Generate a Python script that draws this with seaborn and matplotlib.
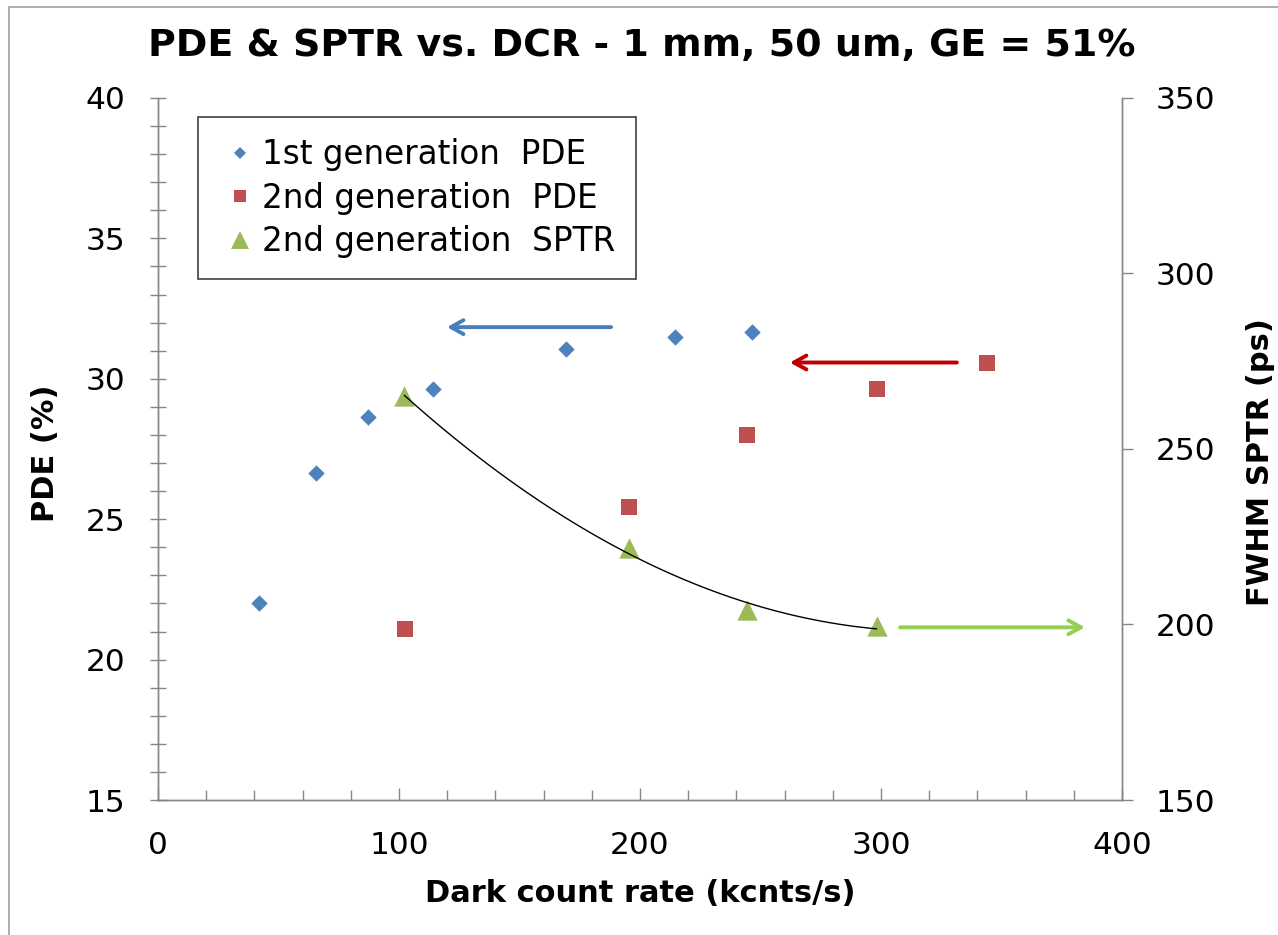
import matplotlib
matplotlib.use("Agg")
import matplotlib.pyplot as plt
from matplotlib.lines import Line2D
from matplotlib.patches import Rectangle
from matplotlib.ticker import MultipleLocator
import seaborn as sns

# ---- data ----
gen1_dcr = [42.0, 65.4, 87.3, 114.0, 169.3, 214.6, 246.6]
gen1_pde = [22.0, 26.65, 28.65, 29.65, 31.05, 31.5, 31.65]

gen2_dcr = [102.5, 195.6, 244.3, 298.2, 344.0]
gen2_pde = [21.1, 25.45, 28.0, 29.65, 30.58]

sptr_dcr = [102.2, 195.6, 244.3, 298.2]
sptr_ps = [265.0, 221.8, 204.1, 199.5]

legend_labels = ["1st generation  PDE", "2nd generation  PDE", "2nd generation  SPTR"]
title_text = "PDE & SPTR vs. DCR - 1 mm, 50 um, GE = 51%"
xlabel_text = "Dark count rate (kcnts/s)"
ylabel_left = "PDE (%)"
ylabel_right = "FWHM SPTR (ps)"

# arrows (tail -> tip) pointing to the axis each series uses
blue_arrow = [(188.0, 31.84), (119.9, 31.84)]
red_arrow = [(331.5, 30.58), (262.2, 30.58)]
green_arrow = [(307.9, 199.2), (384.6, 199.2)]

C_BLUE = "#4F81BD"
C_RED = "#C0504D"
C_GREEN = "#9BBB59"
AX_GRAY = "#868686"

sns.set_style("white")
plt.rcParams["font.family"] = ["DejaVu Sans"]
plt.rcParams["text.color"] = "black"
plt.rcParams["axes.labelcolor"] = "black"
plt.rcParams["xtick.labelcolor"] = "black"
plt.rcParams["ytick.labelcolor"] = "black"

W, H = 1278, 935
fig = plt.figure(figsize=(W / 100, H / 100), dpi=100)
L, R, T, B = 158, 1122, 98, 800
ax = fig.add_axes([L / W, 1 - B / H, (R - L) / W, (B - T) / H])
ax2 = ax.twinx()

# scatter series
sns.scatterplot(x=gen1_dcr, y=gen1_pde, marker="D", color=C_BLUE, s=70,
                linewidth=0, ax=ax, legend=False, zorder=3)
sns.scatterplot(x=gen2_dcr, y=gen2_pde, marker="s", color=C_RED, s=120,
                linewidth=0, ax=ax, legend=False, zorder=3)
sns.scatterplot(x=sptr_dcr, y=sptr_ps, marker="^", color=C_GREEN, s=215,
                linewidth=0, ax=ax2, legend=False, zorder=3)
# polynomial trendline through SPTR points
sns.regplot(x=sptr_dcr, y=sptr_ps, order=2, ci=None, scatter=False,
            truncate=True, line_kws=dict(color="black", lw=1.0, zorder=4), ax=ax2)

ax.set_xlim(0, 400)
ax.set_ylim(15, 40)
ax2.set_ylim(150, 350)

# arrows
def arrow(axis, pts, color):
    axis.annotate("", xy=pts[1], xytext=pts[0],
                  arrowprops=dict(arrowstyle="->,head_length=0.9,head_width=0.5",
                                  color=color, lw=2.8, shrinkA=0, shrinkB=0),
                  zorder=5)

arrow(ax, blue_arrow, "#4A7EBB")
arrow(ax, red_arrow, "#C00000")
arrow(ax2, green_arrow, "#92D050")

# spines
for a in (ax, ax2):
    a.spines["top"].set_visible(False)
    for s in ("left", "right", "bottom"):
        a.spines[s].set_color(AX_GRAY)
        a.spines[s].set_linewidth(1.0)
    a.grid(False)
ax.set_facecolor("none")

# ticks
ax.xaxis.set_major_locator(MultipleLocator(100))
ax.xaxis.set_minor_locator(MultipleLocator(20))
ax.yaxis.set_major_locator(MultipleLocator(5))
ax.yaxis.set_minor_locator(MultipleLocator(1))
ax2.yaxis.set_major_locator(MultipleLocator(50))
ax2.yaxis.set_minor_locator(MultipleLocator(50))

ax.tick_params(axis="x", which="major", direction="in", length=9, width=1,
               color=AX_GRAY, pad=22, labelsize=22.5, labelcolor="black", bottom=True)
ax.tick_params(axis="x", which="minor", direction="in", length=7, width=1,
               color=AX_GRAY, bottom=True)
ax.tick_params(axis="y", which="both", direction="inout", length=11, width=1,
               color=AX_GRAY, left=True, right=False)
ax.tick_params(axis="y", which="major", pad=18, labelsize=22.5, labelcolor="black")
ax2.tick_params(axis="y", which="major", direction="out", length=8, width=1,
                color=AX_GRAY, pad=16, labelsize=22.5, labelcolor="black", right=True)
ax2.tick_params(axis="y", which="minor", length=0)

# labels
ax.set_xlabel(xlabel_text, fontsize=22, fontweight="bold", va="center", color="black")
ax.xaxis.set_label_coords(0.5, -0.1325)
ax.set_ylabel(ylabel_left, fontsize=22, fontweight="bold", va="center", color="black")
ax.yaxis.set_label_coords(-0.1172, 0.494)
ax2.set_ylabel(ylabel_right, fontsize=22, fontweight="bold", va="center", color="black")
ax2.yaxis.set_label_coords(1.144, 0.481)

fig.text(642 / W, 1 - 46 / H, title_text, ha="center", va="center",
         fontsize=27.4, fontweight="bold", color="black")

# legend
handles = [
    Line2D([], [], ls="none", marker="D", color=C_BLUE, markersize=6.5, mew=0),
    Line2D([], [], ls="none", marker="s", color=C_RED, markersize=8, mew=0),
    Line2D([], [], ls="none", marker="^", color=C_GREEN, markersize=13, mew=0),
]
leg = ax.legend(handles, legend_labels, loc="upper left",
                bbox_to_anchor=((198 - L) / (R - L), (B - 117) / (B - T)),
                borderaxespad=0, fontsize=23.5, frameon=True, fancybox=False,
                handlelength=1.25, handletextpad=0.05, labelspacing=0.32,
                borderpad=0.65)
for txt in leg.get_texts():
    txt.set_color("black")
leg.get_frame().set_edgecolor("#404040")
leg.get_frame().set_linewidth(1.2)
leg.get_frame().set_facecolor("white")
leg.get_frame().set_alpha(1)
leg.set_zorder(10)

# outer border (top/left edges visible in reference)
fig.patches.append(Rectangle((9 / W, -0.05), 1.2, 1 - 7 / H + 0.05,
                             transform=fig.transFigure, fill=False,
                             edgecolor="#A0A0A0", lw=1.2))

fig.savefig("out.png", dpi=100)
